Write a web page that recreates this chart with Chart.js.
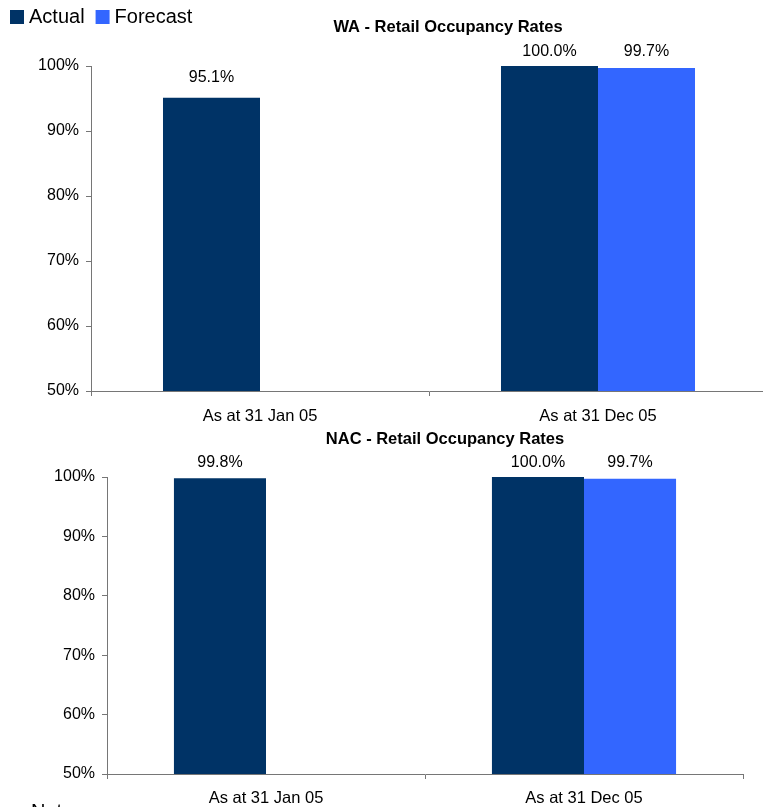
<!DOCTYPE html>
<html>
<head>
<meta charset="utf-8">
<script src="https://cdn.jsdelivr.net/npm/chart.js@4/dist/chart.umd.min.js"></script>
<style>
  html, body { margin: 0; padding: 0; background: #fff; width: 763px; height: 807px; overflow: hidden; }
  .wrap { position: relative; width: 763px; height: 807px; overflow: hidden; }
  canvas { position: absolute; left: 0; }
  #waChart { top: 0; }
  #nacChart { top: 425px; }
  .note { position: absolute; left: 31px; top: 801px; font: 20px "Liberation Sans", Arial, sans-serif; line-height: 20px; color: #000; }
</style>
</head>
<body>
<div class="wrap">
  <canvas id="waChart" width="780" height="430"></canvas>
  <canvas id="nacChart" width="763" height="382"></canvas>
  <div class="note">Note:</div>
</div>
<script>
// Categories and occupancy values (%)
const categories = ['As at 31 Jan 05', 'As at 31 Dec 05'];
const seriesNames = ['Actual', 'Forecast'];
const waActual = [95.1, 100.0];
const waForecast = [null, 99.7];
const nacActual = [99.8, 100.0];
const nacForecast = [null, 99.7];
const yTicks = [50, 60, 70, 80, 90, 100];

const FONT = '"Liberation Sans", Arial, sans-serif';
const COLOR_ACTUAL = '#003366';
const COLOR_FORECAST = '#3366FF';
const AXIS_GREY = '#767676';

// Value labels above each bar
const valueLabels = {
  id: 'valueLabels',
  afterDatasetsDraw(chart, args, opts) {
    const ctx = chart.ctx;
    const top = chart.chartArea.top;
    ctx.save();
    ctx.font = '16px ' + FONT;
    ctx.fillStyle = '#000';
    ctx.textAlign = 'center';
    ctx.textBaseline = 'middle';
    chart.data.datasets.forEach((ds, i) => {
      chart.getDatasetMeta(i).data.forEach((bar, j) => {
        const v = ds.data[j];
        if (v === null || v === undefined) return;
        const y = Math.max(bar.y - opts.offset, top - opts.minGap);
        ctx.fillText(v.toFixed(1) + '%', bar.x, y);
      });
    });
    ctx.restore();
  }
};

// Bold chart heading
const heading = {
  id: 'heading',
  afterDraw(chart, args, opts) {
    if (!opts.text) return;
    const ctx = chart.ctx;
    ctx.save();
    ctx.font = 'bold 16.5px ' + FONT;
    ctx.fillStyle = '#000';
    ctx.textAlign = 'center';
    ctx.textBaseline = 'middle';
    ctx.fillText(opts.text, opts.x, opts.y);
    ctx.restore();
  }
};

// Square-swatch legend in the top-left corner
const cornerLegend = {
  id: 'cornerLegend',
  afterDraw(chart, args, opts) {
    if (!opts.show) return;
    const ctx = chart.ctx;
    ctx.save();
    ctx.font = '20px ' + FONT;
    ctx.textBaseline = 'middle';
    let x = 10;
    chart.data.datasets.forEach(ds => {
      ctx.fillStyle = ds.backgroundColor;
      ctx.fillRect(x, 10, 14, 14);
      ctx.fillStyle = '#000';
      ctx.fillText(ds.label, x + 19, 17);
      x += 19 + ctx.measureText(ds.label).width + 11;
    });
    ctx.restore();
  }
};

function makeChart(id, actual, forecast, cfg) {
  return new Chart(document.getElementById(id), {
    type: 'bar',
    data: {
      labels: categories,
      datasets: [
        { label: seriesNames[0], data: actual, backgroundColor: COLOR_ACTUAL },
        { label: seriesNames[1], data: forecast, backgroundColor: COLOR_FORECAST }
      ]
    },
    options: {
      responsive: false,
      animation: false,
      events: [],
      layout: { padding: { left: 0, right: cfg.padRight, top: cfg.padTop, bottom: 0 } },
      datasets: { bar: { categoryPercentage: cfg.groupWidth, barPercentage: 1.0 } },
      scales: {
        x: {
          afterFit(scale) { scale.height = cfg.xHeight; },
          grid: { drawOnChartArea: false, tickLength: 5, color: AXIS_GREY, offset: true },
          border: { color: AXIS_GREY },
          ticks: { color: '#000', font: { family: FONT, size: 16.5 }, padding: cfg.xPad, maxRotation: 0 }
        },
        y: {
          min: yTicks[0],
          max: yTicks[yTicks.length - 1],
          afterFit(scale) { scale.width = cfg.yWidth; },
          afterBuildTicks(scale) { scale.ticks = yTicks.map(v => ({ value: v })); },
          grid: { drawOnChartArea: false, tickLength: 5, color: AXIS_GREY },
          border: { color: AXIS_GREY },
          ticks: { color: '#000', font: { family: FONT, size: 16 }, padding: 7, callback: v => v + '%' }
        }
      },
      plugins: {
        legend: { display: false },
        title: { display: false },
        tooltip: { enabled: false },
        valueLabels: { offset: 20, minGap: 14 },
        heading: cfg.heading,
        cornerLegend: { show: cfg.legend }
      }
    },
    plugins: [valueLabels, heading, cornerLegend]
  });
}

makeChart('waChart', waActual, waForecast, {
  padRight: 13, padTop: 66, xHeight: 39, yWidth: 91, xPad: 11, groupWidth: 0.574,
  heading: { text: 'WA - Retail Occupancy Rates', x: 448, y: 27 },
  legend: true
});

makeChart('nacChart', nacActual, nacForecast, {
  padRight: 20, padTop: 52, xHeight: 33, yWidth: 107, xPad: 10, groupWidth: 0.579,
  heading: { text: 'NAC - Retail Occupancy Rates', x: 445, y: 14 },
  legend: false
});
</script>
</body>
</html>
